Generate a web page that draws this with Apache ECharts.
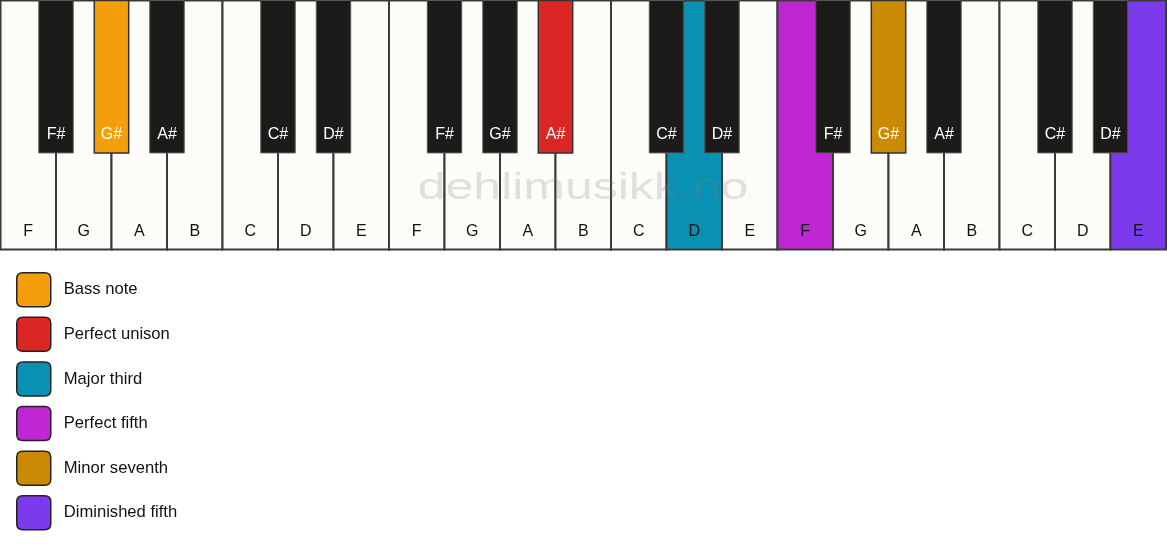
<!DOCTYPE html>
<html><head><meta charset="utf-8">
<script src="https://cdn.jsdelivr.net/npm/echarts@6/dist/echarts.min.js"></script>
<style>html,body{margin:0;padding:0;background:#fff}#c{width:1167px;height:550px}</style>
</head><body><div id="c"></div>
<script>
const whiteNotes = ['F','G','A','B','C','D','E','F','G','A','B','C','D','E','F','G','A','B','C','D','E'];
const blackNotes = ['F#','G#','A#','C#','D#','F#','G#','A#','C#','D#','F#','G#','A#','C#','D#'];
const blackPositions = [1,2,3,5,6,8,9,10,12,13,15,16,17,19,20];
const intervals = ['Bass note','Perfect unison','Major third','Perfect fifth','Minor seventh','Diminished fifth'];
const intervalColors = ['#f59e0b','#dc2626','#0891b2','#c026d3','#ca8a04','#7c3aed'];
const intervalKeyType = ['black','black','white','white','black','white'];
const intervalKeyIndex = [1,7,12,14,11,20];

const FONT = '"Liberation Sans", Arial, sans-serif';
const WHITE = '#fdfcf8', BLACK = '#1c1b19';
const BLACK_W = 0.62, BLACK_H = 153;

function colorFor(type, idx){
  for (let k=0;k<intervals.length;k++){
    if (intervalKeyType[k]===type && intervalKeyIndex[k]===idx) return intervalColors[k];
  }
  return null;
}
const whiteData = whiteNotes.map((n,i)=>[i, n]);
const blackData = blackNotes.map((n,i)=>[blackPositions[i], n, i]);

const chart = echarts.init(document.getElementById('c'), null, {renderer:'canvas'});
const legendIcon = 'path://M6,0 H28 Q34,0 34,6 V28 Q34,34 28,34 H6 Q0,34 0,28 V6 Q0,0 6,0 Z';

const series = [
  {
    type:'custom', name:'white', z:1, silent:true,
    data: whiteData,
    encode:{x:0},
    renderItem(params, api){
      const i = api.value(0);
      const p0 = api.coord([i,0]), p1 = api.coord([i+1,250]);
      const c = colorFor('white', params.dataIndex);
      const lbl = api.coord([i+0.5, 232]);
      return {type:'group', children:[
        {type:'rect', shape:{x:p0[0], y:p0[1], width:p1[0]-p0[0], height:p1[1]-p0[1]},
         style:{fill:c||WHITE, stroke:'#3a3a3a', lineWidth:2}},
        {type:'text', style:{x:lbl[0], y:lbl[1], text:whiteNotes[params.dataIndex], fill:'#111',
         font:'16px '+FONT, align:'center', verticalAlign:'middle'}}
      ]};
    }
  },
  {
    type:'custom', name:'black', z:3, silent:true,
    data: blackData,
    encode:{x:0},
    renderItem(params, api){
      const b = api.value(0);
      const p0 = api.coord([b-BLACK_W/2,0]), p1 = api.coord([b+BLACK_W/2,BLACK_H]);
      const c = colorFor('black', params.dataIndex);
      const lbl = api.coord([b, 135]);
      return {type:'group', children:[
        {type:'rect', shape:{x:p0[0], y:p0[1], width:p1[0]-p0[0], height:p1[1]-p0[1]},
         style:{fill:c||BLACK, stroke:c?'#333':'#555', lineWidth:c?1.5:1}},
        {type:'text', style:{x:lbl[0], y:lbl[1], text:blackNotes[params.dataIndex], fill:'#fff',
         font:'16px '+FONT, align:'center', verticalAlign:'middle'}}
      ]};
    }
  }
];
intervals.forEach((name,k)=>{
  series.push({type:'custom', name:name, data:[], renderItem(){return null;},
    itemStyle:{color:intervalColors[k], borderColor:'#222', borderWidth:1.5}});
});

chart.setOption({
  animation:false,
  backgroundColor:'#ffffff',
  grid:{left:0.5, top:0.5, width:1165.5, height:249},
  xAxis:{type:'value', min:0, max:21, show:false},
  yAxis:{type:'value', min:0, max:250, inverse:true, show:false},
  legend:{
    data: intervals, orient:'vertical', left:16, top:272, padding:0,
    itemWidth:34, itemHeight:34, itemGap:9.1, icon:legendIcon, selectedMode:false,
    itemStyle:{borderColor:'#222', borderWidth:1.5},
    textStyle:{fontSize:16.6, color:'#111', fontFamily:FONT, padding:[0,0,0,8]}
  },
  graphic:[{
    type:'text', z:100, silent:true, x:583, y:189, scaleX:1.35, scaleY:1,
    style:{text:'dehlimusikk.no', font:'37px '+FONT, fill:'rgba(128,128,128,0.23)', align:'center', verticalAlign:'middle'}
  }],
  series: series
});
</script></body></html>
